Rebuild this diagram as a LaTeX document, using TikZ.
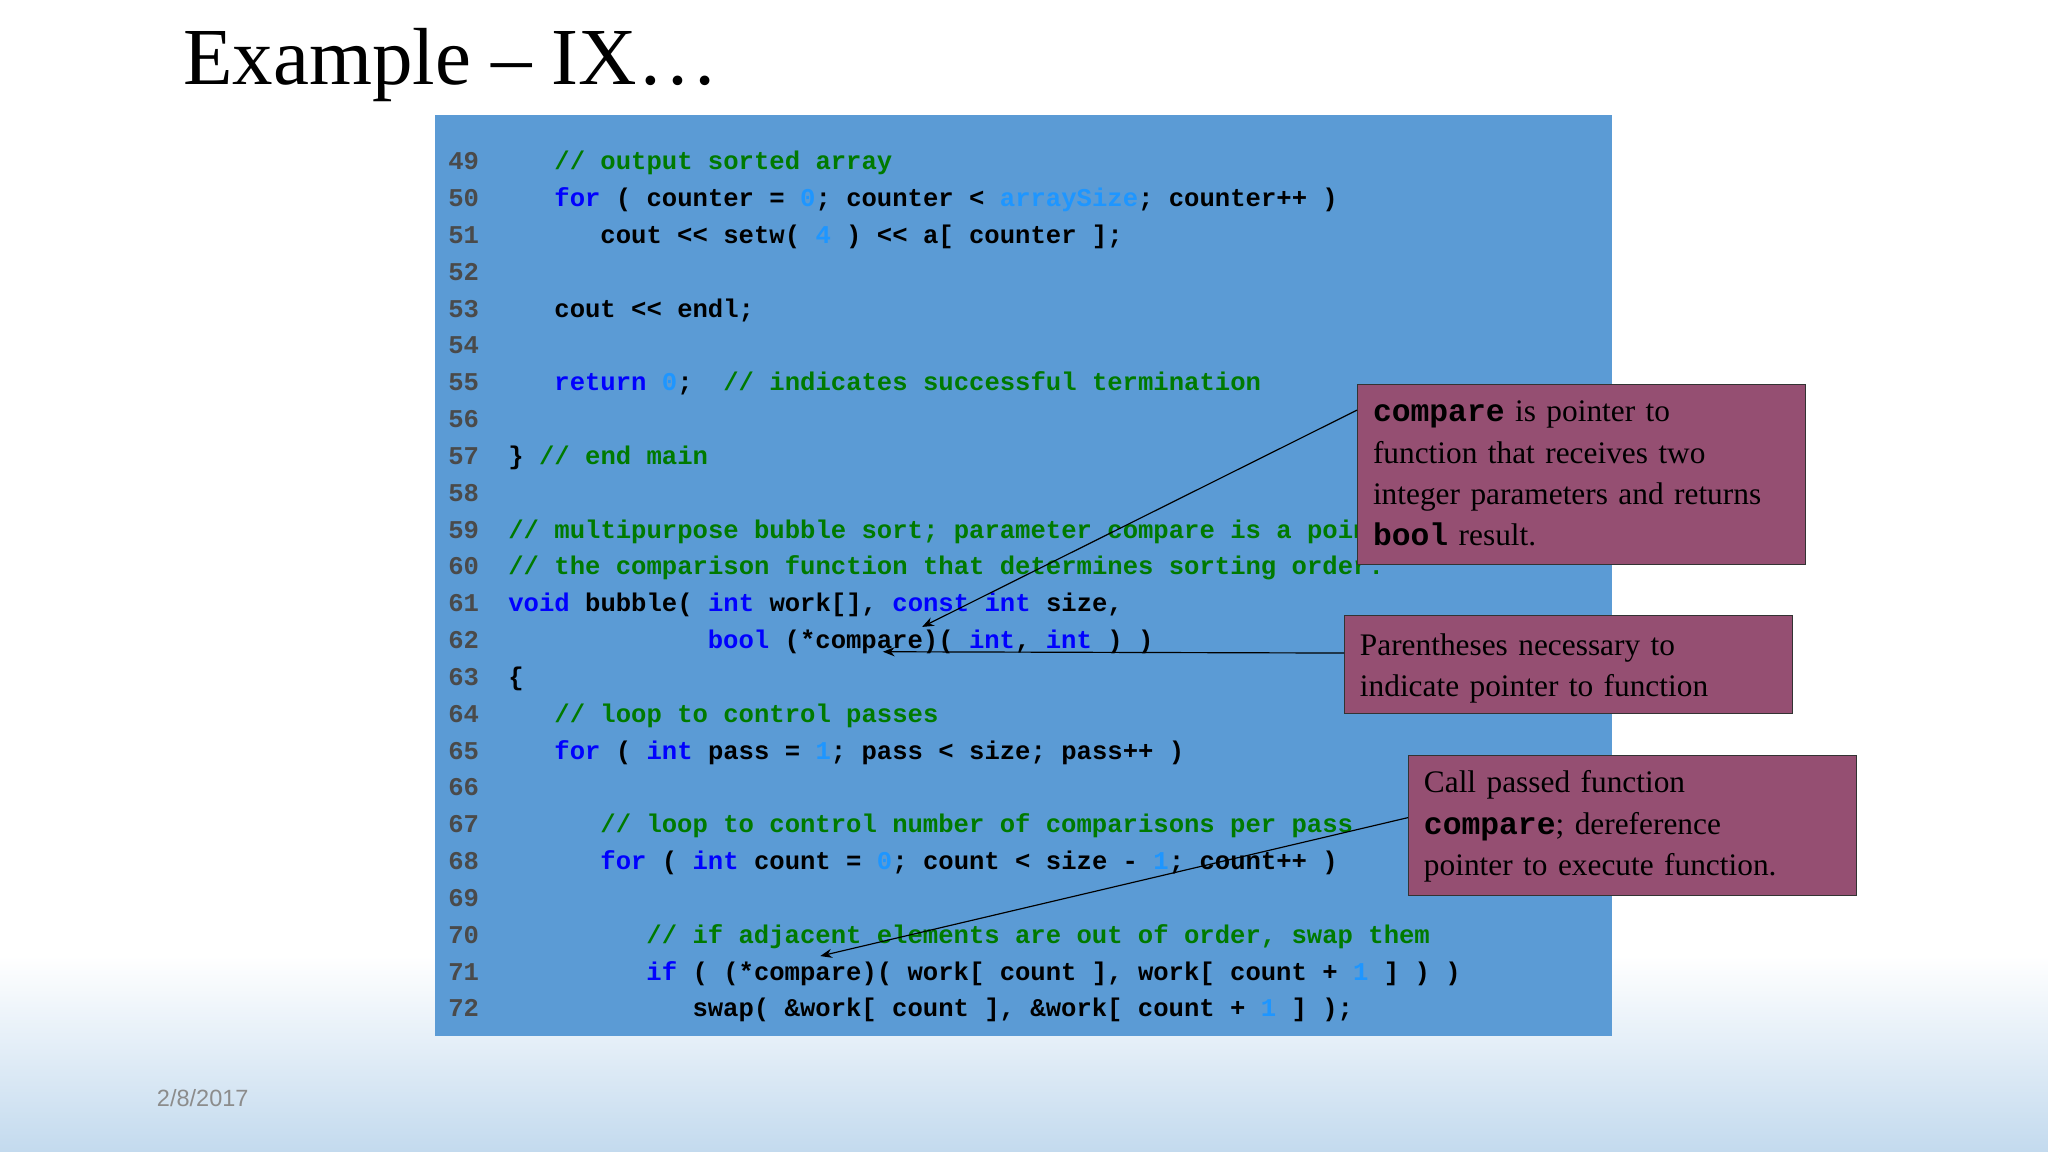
\documentclass[tikz,border=0pt]{standalone}
\usepackage{fontspec}
\setmainfont{Liberation Serif}
\newfontfamily\codefont{Liberation Mono}
\newfontfamily\datefont{Liberation Sans}
\usetikzlibrary{arrows.meta}
\definecolor{bgblue}{HTML}{5B9BD5}
\definecolor{kwc}{HTML}{0000FF}
\definecolor{cmc}{HTML}{007A00}
\definecolor{nmc}{HTML}{1E96FF}
\definecolor{lnc}{HTML}{4A4A4A}
\definecolor{callc}{HTML}{954F72}
\definecolor{bottomblue}{HTML}{C3DAEE}
\newcommand{\kw}[1]{\textcolor{kwc}{#1}}
\newcommand{\cm}[1]{\textcolor{cmc}{#1}}
\newcommand{\nm}[1]{\textcolor{nmc}{#1}}
\tikzset{
  codeline/.style={anchor=base west,inner sep=0pt,font=\codefont\bfseries\fontsize{19.6}{22}\selectfont,text=black},
  lnum/.style={anchor=base east,inner sep=0pt,font=\codefont\bfseries\fontsize{19.6}{22}\selectfont,text=lnc},
  callout/.style={draw=black!80,line width=0.8pt,fill=callc,anchor=north west,inner sep=0pt},
  calltext/.style={anchor=north west,align=left,inner sep=0pt,font=\fontsize{24}{31.5}\selectfont,text width=330},
  pointer/.style={-{Stealth[length=9pt,width=7pt]},line width=0.9pt,black}
}
\newcommand{\cw}[1]{{\codefont\bfseries #1}}
\begin{document}
\begin{tikzpicture}[x=1pt,y=1pt]
\useasboundingbox (0,0) rectangle (1568,882);
\fill[white] (0,0) rectangle (1568,882);
\shade[bottom color=bottomblue,top color=white] (0,0) rectangle (1568,150);
\node[anchor=base west,inner sep=0pt,font=\fontsize{62}{70}\selectfont] (title) at (140,817) {Example – IX…};
\node[anchor=base west,inner sep=0pt,font=\datefont\fontsize{18}{20}\selectfont,text=black!45] (dt) at (120,35) {2/8/2017};
\fill[bgblue] (333,89) rectangle (1234,794);
\def\cx{389}\def\ch{11.75}
\foreach \n/\c/\t [count=\i from 0] in {
49/3/{\cm{// output sorted array}},
50/3/{\kw{for} ( counter = \nm{0}; counter < \nm{arraySize}; counter++ )},
51/6/{cout << setw( \nm{4} ) << a[ counter ];},
52/0/{},
53/3/{cout << endl;},
54/0/{},
55/3/{\kw{return} \nm{0};\ \ \cm{// indicates successful termination}},
56/0/{},
57/0/{\} \cm{// end main}},
58/0/{},
59/0/{\cm{// multipurpose bubble sort; parameter compare is a pointer to}},
60/0/{\cm{// the comparison function that determines sorting order.}},
61/0/{\kw{void} bubble( \kw{int} work[], \kw{const int} size,},
62/13/{\kw{bool} (*compare)( \kw{int}, \kw{int} ) )},
63/0/{\{},
64/3/{\cm{// loop to control passes}},
65/3/{\kw{for} ( \kw{int} pass = \nm{1}; pass < size; pass++ )},
66/0/{},
67/6/{\cm{// loop to control number of comparisons per pass}},
68/6/{\kw{for} ( \kw{int} count = \nm{0}; count < size - \nm{1}; count++ )},
69/0/{},
70/9/{\cm{// if adjacent elements are out of order, swap them}},
71/9/{\kw{if} ( (*compare)( work[ count ], work[ count + \nm{1} ] ) )},
72/12/{swap( \&work[ count ], \&work[ count + \nm{1} ] );}}{
  \node[lnum] (ln\n) at (367,{752-28.2*\i}) {\n};
  \node[codeline] (cl\n) at ({\cx+\ch*\c},{752-28.2*\i}) {\t};
}
\node[callout,minimum width=343,minimum height=138] (b1) at (1039,588) {};
\node[calltext] (b1t) at (1051,575)
  {\cw{compare} is pointer to\\function that receives two\\integer parameters and returns\\\cw{bool} result.};
\node[callout,minimum width=343,minimum height=75] (b2) at (1029,411) {};
\node[calltext] (b2t) at (1041,397)
  {Parentheses necessary to\\indicate pointer to function};
\node[callout,minimum width=343,minimum height=107] (b3) at (1078,304) {};
\node[calltext] (b3t) at (1090,292)
  {Call passed function\\\cw{compare}; dereference\\pointer to execute function.};
\coordinate (t1) at (706,402);
\coordinate (t2) at (676,383);
\coordinate (t3) at (628,150);
\draw[pointer] ([yshift=-20]b1.north west) -- (t1);
\draw[pointer] ([yshift=-29]b2.north west) -- (t2);
\draw[pointer] ([yshift=-48]b3.north west) -- (t3);
\end{tikzpicture}
\end{document}
